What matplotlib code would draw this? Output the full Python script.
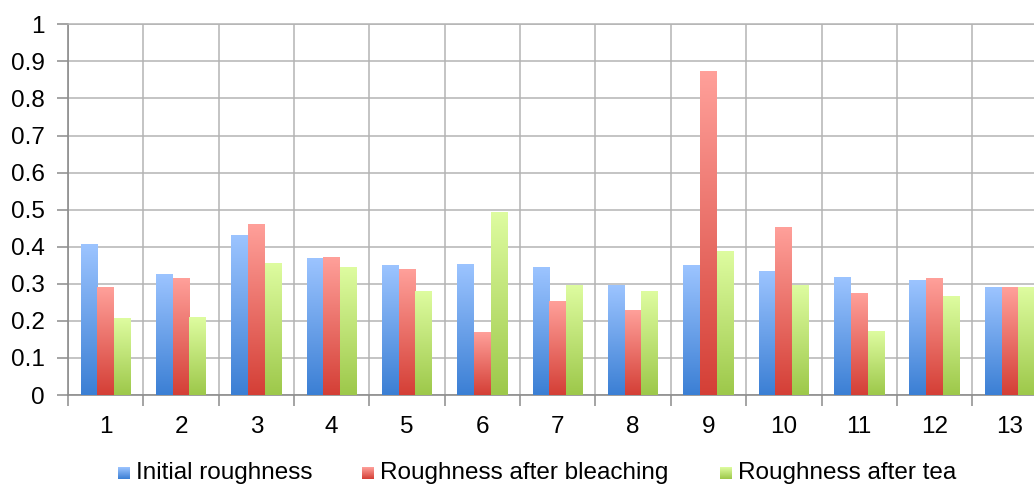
import numpy as np
import matplotlib.pyplot as plt
from matplotlib.colors import LinearSegmentedColormap

# Data
samples = [str(i) for i in range(1, 14)]
initial = [0.405, 0.326, 0.431, 0.368, 0.348, 0.351, 0.345, 0.295, 0.348, 0.332, 0.318, 0.308, 0.291]
bleaching = [0.291, 0.314, 0.459, 0.370, 0.339, 0.169, 0.251, 0.229, 0.874, 0.452, 0.275, 0.314, 0.291]
tea = [0.207, 0.210, 0.354, 0.345, 0.279, 0.491, 0.295, 0.279, 0.386, 0.295, 0.172, 0.267, 0.291]
series_names = ["Initial roughness", "Roughness after bleaching", "Roughness after tea"]
y_ticks = [0, 0.1, 0.2, 0.3, 0.4, 0.5, 0.6, 0.7, 0.8, 0.9, 1]
y_labels = ["0", "0.1", "0.2", "0.3", "0.4", "0.5", "0.6", "0.7", "0.8", "0.9", "1"]

# (bottom colour, top colour) for the Excel-like gradient fills
gradients = [("#3b7fd4", "#9cc4ff"), ("#d43f36", "#ffa09a"), ("#9dc84a", "#defca0")]

plt.rcParams['font.family'] = ['Liberation Sans', 'DejaVu Sans']
fs = 17.5

fig = plt.figure(figsize=(10.34, 4.84), dpi=100)
ax = fig.add_axes([68 / 1034, 89 / 484, 1 - 68 / 1034, (395 - 24.3) / 484])

x = np.arange(1, len(samples) + 1)
width = 0.222
grid_col = "#b4b4b4"

for k, (vals, (c0, c1)) in enumerate(zip([initial, bleaching, tea], gradients)):
    cmap = LinearSegmentedColormap.from_list(f"g{k}", [c0, c1])
    bars = ax.bar(x + (k - 1) * width, vals, width, color="none", zorder=3)
    grad = np.linspace(0, 1, 256).reshape(-1, 1)
    for b in bars:
        x0, h = b.get_x(), b.get_height()
        ax.imshow(grad, cmap=cmap, origin="lower", aspect="auto",
                  extent=[x0, x0 + b.get_width(), 0, h], zorder=3)

ax.set_xlim(0.5, 13.32)
ax.set_ylim(0, 1)

ax.set_xticks(x)
ax.set_xticklabels(samples, fontsize=fs)
ax.set_xticks(np.arange(0.5, 13.5, 1.0), minor=True)
ax.tick_params(axis="x", which="major", length=0, pad=15)
ax.tick_params(axis="x", which="minor", length=8, width=1.1, color="#8c8c8c", direction="out")

ax.set_yticks(y_ticks)
ax.set_yticklabels(y_labels, fontsize=fs)
ax.tick_params(axis="y", length=8, width=1.1, color="#8c8c8c", pad=9)

ax.grid(True, axis="y", which="major", color=grid_col, linewidth=1.1, zorder=0)
ax.grid(True, axis="x", which="minor", color=grid_col, linewidth=1.1, zorder=0)
ax.set_axisbelow(True)

for side in ["left", "bottom"]:
    ax.spines[side].set_color("#8c8c8c")
    ax.spines[side].set_linewidth(1.2)
ax.spines["top"].set_color(grid_col)
ax.spines["top"].set_linewidth(1.1)
ax.spines["right"].set_visible(False)

# Legend along the bottom edge, with small gradient squares
legend_pos = [(118, 136), (362, 380), (720, 738)]
for (mx, tx), name, (c0, c1) in zip(legend_pos, series_names, gradients):
    cmap = LinearSegmentedColormap.from_list(name, [c0, c1])
    lax = fig.add_axes([mx / 1034, 5 / 484, 12 / 1034, 12 / 484])
    lax.imshow(np.linspace(0, 1, 64).reshape(-1, 1), cmap=cmap, origin="lower", aspect="auto")
    lax.set_axis_off()
    fig.text(tx / 1034, 5 / 484, name, fontsize=fs, va="baseline", ha="left")

fig.savefig("out.png", dpi=100)
